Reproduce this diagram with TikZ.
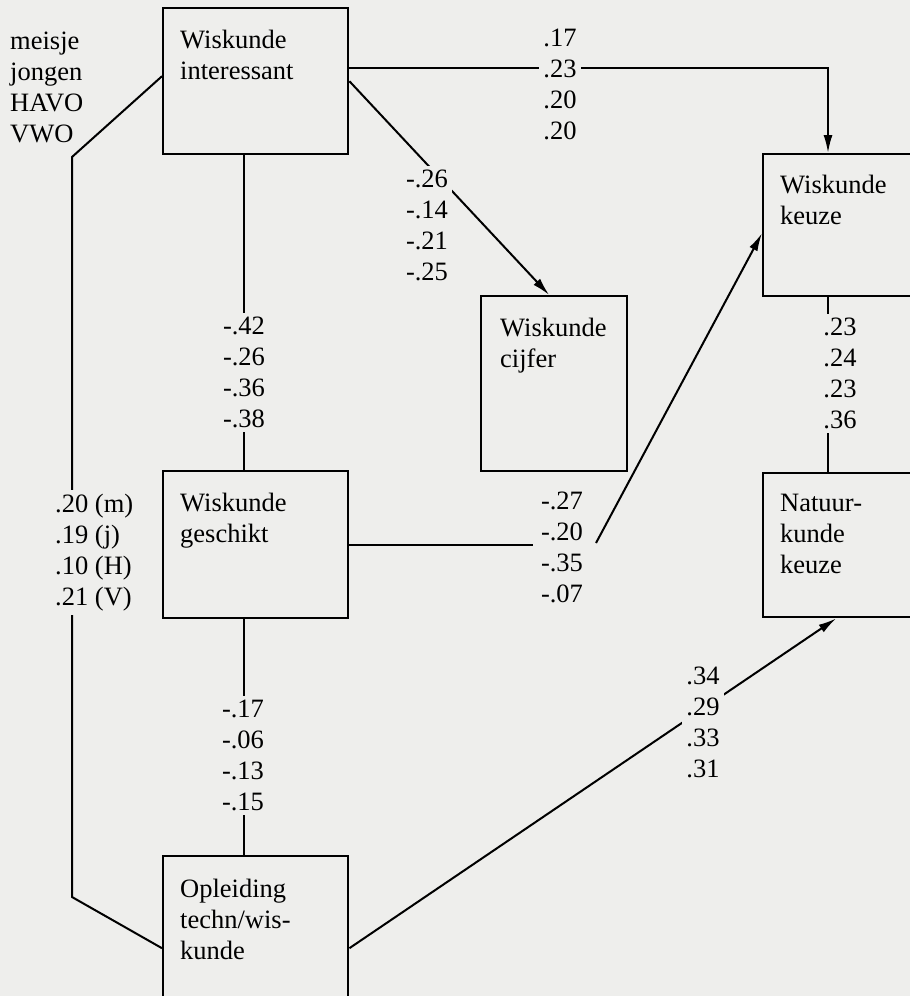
\documentclass[tikz,border=0pt]{standalone}
\usepackage{fontspec}
\setmainfont{Liberation Serif}
\usetikzlibrary{arrows.meta,positioning}
\definecolor{paper}{RGB}{238,238,236}
\newcommand\diagfont{\fontsize{26.5}{31}\selectfont}

\begin{document}
\begin{tikzpicture}[x = 1pt, y = -1pt,
  varbox/.style = {draw, line width = 2.4pt, shape = rectangle, anchor = north west, inner sep = 0pt},
  boxtext/.style = {align = left, inner sep = 0pt, font = \diagfont},
  coef/.style = {fill = paper, align = center, inner sep = 4pt, anchor = north, font = \diagfont},
  coefleft/.style = {coef, align = left, anchor = north west},
  link/.style = {line width = 2pt},
  arrowlink/.style = {link, -{Latex[length = 18pt, width = 9pt]}}]
\useasboundingbox (0,0) rectangle (910,996);
\clip (0,0) rectangle (910,996);
\fill[paper] (0,0) rectangle (910,996);

% variabelen
\node[varbox, minimum width = 185pt, minimum height = 146pt] (interessant) at (162,7) {};
\node[varbox, minimum width = 185pt, minimum height = 147pt] (geschikt) at (162,470) {};
\node[varbox, minimum width = 185pt, minimum height = 184pt] (opleiding) at (162,855) {};
\node[varbox, minimum width = 146pt, minimum height = 175pt] (cijfer) at (480,295) {};
\node[varbox, minimum width = 170pt, minimum height = 142pt] (keuze) at (762,153) {};
\node[varbox, minimum width = 170pt, minimum height = 144pt] (natuur) at (762,472) {};

\node[boxtext, below right = 23pt and 18pt of interessant.north west] (interessant-t) {Wiskunde\\interessant};
\node[boxtext, below right = 23pt and 18pt of geschikt.north west] (geschikt-t) {Wiskunde\\geschikt};
\node[boxtext, below right = 24pt and 18pt of opleiding.north west] (opleiding-t) {Opleiding\\techn/wis-\\kunde};
\node[boxtext, below right = 23pt and 20pt of cijfer.north west] (cijfer-t) {Wiskunde\\cijfer};
\node[boxtext, below right = 22pt and 18pt of keuze.north west] (keuze-t) {Wiskunde\\keuze};
\node[boxtext, below right = 22pt and 18pt of natuur.north west] (natuur-t) {Natuur-\\kunde\\keuze};

\node[boxtext, anchor = north west] (groepen) at (10,32) {meisje\\jongen\\HAVO\\VWO};

% paden
\coordinate (mspine) at (244,0);
\coordinate (rspine) at (828,0);
\coordinate (ltop) at (72,157);
\coordinate (lbot) at (72,897);
\coordinate (bendin) at (533,546);
\coordinate (bendout) at (596,543);

\draw[arrowlink] ([yshift = 13pt]interessant.east) -| (keuze.north -| rspine);
\draw[arrowlink] (interessant.east) -- ([xshift = -5pt]cijfer.north);
\draw[link] (interessant.south -| mspine) -- (geschikt.north -| mspine);
\draw[link] (geschikt.south -| mspine) -- (opleiding.north -| mspine);
\draw[link] ([yshift = 5pt]interessant.west) -- (ltop) -- (lbot) -- (opleiding.west);
\draw[link] (geschikt.east) -- (geschikt.east -| bendin);
\draw[arrowlink] (bendout) -- ([yshift = -8pt]keuze.west);
\draw[arrowlink] (opleiding.east) -- ([xshift = -12pt]natuur.south);
\draw[link] (keuze.south -| rspine) -- (natuur.north -| rspine);

% coefficienten
\node[coef] (c-keuze) at (560,25) {.17\\.23\\.20\\.20};
\node[coef] (c-cijfer) at (427,166) {-.26\\-.14\\-.21\\-.25};
\node[coef] (c-geschikt) at (244,313) {-.42\\-.26\\-.36\\-.38};
\node[coef] (c-natuur) at (840,314) {.23\\.24\\.23\\.36};
\node[coefleft] (c-groepen) at (51,490) {.20 (m)\\.19 (j)\\.10 (H)\\.21 (V)};
\node[coef] (c-bend) at (562,488) {-.27\\-.20\\-.35\\-.07};
\node[coef] (c-opleiding) at (703,663) {.34\\.29\\.33\\.31};
\node[coef] (c-techn) at (243,696) {-.17\\-.06\\-.13\\-.15};
\end{tikzpicture}
\end{document}
